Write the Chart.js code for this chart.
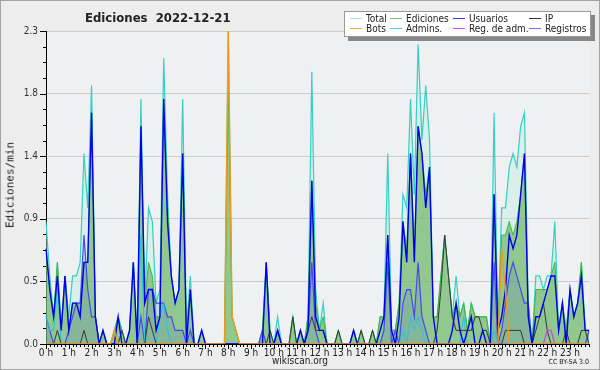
<!DOCTYPE html>
<html>
<head>
<meta charset="utf-8">
<script src="https://cdn.jsdelivr.net/npm/chart.js@4.4.0/dist/chart.umd.min.js"></script>
<style>
  body { margin: 0; background: #ededed; }
  #wrap { position: relative; width: 600px; height: 370px; font-family: "DejaVu Sans Condensed", "DejaVu Sans", sans-serif; font-stretch: condensed; color: #222; }
  #wrap canvas { position: absolute; left: 0; top: 0; }
  #frame { position: absolute; left: 0; top: 0; width: 600px; height: 370px; box-sizing: border-box; border: 1px solid #a4a4a4; pointer-events: none; }
  #title { position: absolute; left: 85px; top: 10px; font-size: 13px; font-weight: bold; white-space: pre; }
  #ytitle { position: absolute; left: 10px; top: 185px; transform: translate(-50%, -50%) rotate(-90deg); font-family: "DejaVu Sans Mono", monospace; font-size: 11px; white-space: nowrap; }
  #legend { position: absolute; left: 344px; top: 11px; width: 247px; height: 26px; box-sizing: border-box; background: #fff; border: 1px solid #9a9a9a; box-shadow: 4px 4px 0 #878787; display: grid; grid-template-columns: 40px 63px 76px 62px; grid-auto-rows: 9.5px; padding: 2px 0 0 5px; font-size: 10px; line-height: 9.5px; }
  .item { display: flex; align-items: center; white-space: nowrap; }
  .item i { display: inline-block; width: 12px; height: 0; border-top: 1px solid; margin-right: 4px; }
  #site { position: absolute; left: 0; width: 600px; top: 355px; text-align: center; font-size: 10px; }
  #lic { position: absolute; right: 11px; top: 358px; font-size: 7px; }
</style>
</head>
<body>
<div id="wrap">
  <canvas id="chart" width="600" height="370"></canvas>
  <div id="title">Ediciones  2022-12-21</div>
  <div id="ytitle">Ediciones/min</div>
  <div id="legend"></div>
  <div id="site">wikiscan.org</div>
  <div id="lic">CC BY-SA 3.0</div>
  <div id="frame"></div>
</div>
<script>
// one value every 10 minutes, in edits per minute
const hourLabels = ['0 h','1 h','2 h','3 h','4 h','5 h','6 h','7 h','8 h','9 h','10 h','11 h',
  '12 h','13 h','14 h','15 h','16 h','17 h','18 h','19 h','20 h','21 h','22 h','23 h'];
const minuteLabels = ['00','10','20','30','40','50'];
const yTickLabels = ['0.0','0.5','0.9','1.4','1.8','2.3'];

const total = [
  0.9,0.5,0.2,0.6,0.1,0.5,0.2,0.5,0.5,0.6,
  1.4,1.0,1.9,0.2,0,0.1,0,0,0.1,0.2,
  0.1,0,0.1,0.6,0,1.8,0.3,1.0,0.9,0.3,
  0.4,2.1,1.1,0.5,0.3,0.4,1.8,0.1,0.5,0,
  0,0.1,0,0,0,0,0,0,2.3,0.2,
  0.1,0,0,0,0,0,0,0.1,0.6,0.1,
  0,0.2,0,0,0,0.2,0,0.1,0,0.2,
  2.0,0.4,0.1,0.3,0,0,0,0.1,0,0,
  0,0.1,0,0.1,0,0,0.1,0,0.2,0.2,
  1.4,0.1,0.1,0.3,1.1,1.0,1.8,1.1,2.2,1.5,
  1.9,1.5,0.2,0.2,0.5,0.8,0.5,0.2,0.5,0.2,
  0.3,0.1,0.3,0.2,0.2,0.2,0.2,0,1.7,0.1,
  1.0,1.0,1.3,1.4,1.3,1.6,1.7,0.3,0,0.5,
  0.5,0.4,0.5,0.5,0.9,0.1,0.3,0.1,0.4,0.2,
  0.3,0.6,0.1,0.1];

const ediciones = [
  0.7,0.4,0.2,0.6,0.1,0.5,0.1,0.3,0.3,0.3,
  0.6,0.6,1.7,0.2,0,0.1,0,0,0.1,0.2,
  0.1,0,0.1,0.6,0,1.6,0.3,0.6,0.5,0.2,
  0.2,1.8,1.0,0.5,0.3,0.4,1.4,0.1,0.4,0,
  0,0.1,0,0,0,0,0,0,1.9,0.2,
  0.1,0,0,0,0,0,0,0.1,0.6,0.1,
  0,0.1,0,0,0,0.2,0,0.1,0,0.2,
  1.2,0.3,0.1,0.2,0,0,0,0.1,0,0,
  0,0.1,0,0.1,0,0,0.1,0,0.2,0.2,
  0.8,0.1,0.1,0.3,0.9,0.7,1.4,0.7,1.6,1.4,
  1.1,1.3,0.2,0.2,0.5,0.8,0.5,0.2,0.3,0.2,
  0.3,0.1,0.3,0.2,0.2,0.2,0.2,0,1.1,0.1,
  0.8,0.8,0.9,0.8,0.9,1.1,1.4,0.2,0,0.4,
  0.4,0.4,0.4,0.5,0.6,0.1,0.3,0.1,0.4,0.2,
  0.3,0.6,0.1,0.1];

const usuarios = [
  0.7,0.4,0.2,0.5,0.1,0.5,0.1,0.3,0.3,0.2,
  0.6,0.6,1.7,0.2,0,0.1,0,0,0,0.2,
  0,0,0.1,0.6,0,1.6,0.3,0.4,0.4,0.1,
  0.2,1.8,0.9,0.5,0.3,0.4,1.4,0,0.4,0,
  0,0.1,0,0,0,0,0,0,0,0,
  0,0,0,0,0,0,0,0,0.6,0,
  0,0.1,0,0,0,0,0,0.1,0,0.1,
  1.2,0.2,0.1,0.1,0,0,0,0,0,0,
  0,0.1,0,0,0,0,0,0,0.1,0.2,
  0.8,0.1,0,0.2,0.9,0.6,1.4,0.6,1.6,1.4,
  1.0,1.3,0.2,0,0,0,0,0.1,0.3,0.1,
  0,0.1,0.2,0,0,0.1,0,0,1.1,0.1,
  0.2,0.4,0.8,0.7,0.8,1.1,1.4,0.2,0,0.2,
  0.2,0.3,0.4,0.5,0.5,0.1,0.3,0,0.4,0.2,
  0.3,0.5,0.1,0.1];

const ip = [
  0,0,0,0.1,0,0,0,0,0,0,
  0.1,0,0,0,0,0,0,0,0,0,
  0.1,0,0,0,0,0,0,0.2,0.1,0,
  0,0,0,0,0,0,0,0,0,0,
  0,0,0,0,0,0,0,0,0,0,
  0,0,0,0,0,0,0,0,0,0.1,
  0,0,0,0,0,0.2,0,0,0,0.1,
  0.2,0.1,0.1,0.1,0,0,0,0.1,0,0,
  0,0,0,0.1,0,0,0.1,0,0,0,
  0,0,0,0,0,0,0,0,0,0,
  0,0,0,0.1,0.4,0.8,0.5,0.2,0.1,0.1,
  0.1,0.1,0.1,0.2,0.2,0.1,0.1,0,0,0,
  0,0.1,0.1,0.1,0.1,0.1,0,0,0,0.1,
  0.2,0.3,0.1,0,0,0,0,0.1,0,0,
  0,0.1,0.1,0];

const bots = [
  0,0,0,0,0,0,0,0,0,0,
  0,0,0,0,0,0,0,0,0.1,0,
  0,0,0,0,0,0,0,0,0,0,
  0,0,0,0,0,0,0,0,0,0,
  0,0,0,0,0,0,0,0,2.3,0.2,
  0.1,0,0,0,0,0,0,0,0,0,
  0,0,0,0,0,0,0,0,0,0,
  0,0,0,0,0,0,0,0,0,0,
  0,0,0,0,0,0,0,0,0,0,
  0,0,0,0,0,0,0,0,0,0,
  0,0,0,0,0,0,0,0,0,0,
  0,0,0,0,0,0,0,0,0,0,
  0.7,0.4,0,0,0,0,0,0,0,0,
  0,0,0,0,0,0,0,0,0,0,
  0,0,0,0];

const admins = [
  0.2,0.1,0.1,0.4,0,0,0,0,0,0,
  0,0,0,0,0,0,0,0,0,0,
  0,0,0,0,0,0.8,0,0,0,0,
  0.2,0.3,0.1,0,0,0,0,0,0,0,
  0,0,0,0,0,0,0,0,0,0,
  0,0,0,0,0,0,0,0,0,0,
  0,0,0,0,0,0,0,0,0,0,
  0,0,0,0,0,0,0,0,0,0,
  0,0,0,0,0,0,0,0,0,0,
  0,0,0,0,0.1,0,0.2,0.1,0.2,0.1,
  0,0,0,0,0,0,0,0,0,0,
  0.2,0,0,0,0,0,0,0,0.1,0,
  0,0,0,0,0,0,0,0,0,0,
  0,0,0,0,0,0,0,0,0,0,
  0,0,0,0];

const regAdm = [
  0,0,0,0,0,0,0,0,0,0,
  0,0,0,0,0,0,0,0,0,0,
  0,0,0,0,0,0,0,0,0,0,
  0,0,0,0,0,0,0,0,0,0,
  0,0,0,0,0,0,0,0,0,0,
  0,0,0,0,0,0,0,0,0,0,
  0,0,0,0,0,0,0,0,0,0,
  0,0,0,0,0,0,0,0,0,0,
  0,0,0,0,0,0,0,0,0,0,
  0,0,0,0,0,0,0,0,0,0,
  0,0,0,0,0,0,0,0,0,0,
  0,0,0,0,0,0,0,0,0,0,
  0,0,0,0,0,0,0,0,0,0,
  0,0,0.1,0.1,0,0,0,0,0,0,
  0,0,0,0];

const registros = [
  0.2,0.1,0,0,0,0,0.1,0.2,0.3,0.3,
  0.8,0.4,0.2,0.2,0,0,0,0,0,0,
  0,0,0,0,0,0.2,0,0.4,0.4,0.3,
  0.3,0.3,0.2,0.2,0.1,0.1,0.1,0,0.1,0,
  0,0,0,0,0,0,0,0,0,0,
  0,0,0,0,0,0,0,0.1,0,0,
  0,0.1,0,0,0,0,0,0,0,0.1,
  0.6,0.1,0,0,0,0,0,0,0,0,
  0,0,0,0,0,0,0,0,0,0.1,
  0.6,0,0.1,0,0.3,0.4,0.4,0.2,0.6,0.2,
  0.1,0,0,0,0,0,0,0,0,0,
  0,0,0,0,0,0,0,0,0.6,0,
  0.1,0.3,0.5,0.6,0.5,0.4,0.3,0.3,0,0,
  0,0,0,0,0,0,0,0,0,0,
  0,0,0,0.1];

const slots = [];
hourLabels.forEach((h, hi) => minuteLabels.forEach(m => slots.push(hi + ':' + m)));

const FONT = "'DejaVu Sans Condensed', 'DejaVu Sans', sans-serif";

function series(label, data, line, key, order, fill, width) {
  return {
    label: label, data: data, borderColor: line, legendColor: key,
    borderWidth: width || 1, order: order,
    fill: fill ? 'origin' : false, backgroundColor: fill || 'transparent',
    pointRadius: 0, tension: 0
  };
}

const datasets = [
  series('Total', total, '#35cfc3', '#a8e6e4', 8, 'rgba(188,240,225,0.45)', 1.2),
  series('Ediciones', ediciones, '#3fb83f', '#74cf74', 7, 'rgba(86,168,70,0.55)', 1),
  series('Usuarios', usuarios, '#0000ee', '#3a3ae4', 2, null, 1.4),
  series('IP', ip, '#383838', '#333333', 4, null, 1),
  series('Bots', bots, '#f39a1a', '#f4a23c', 1, null, 1.4),
  series('Admins.', admins, '#22c5e5', '#3fd0e2', 5, null, 1),
  series('Reg. de adm.', regAdm, '#d43ae6', '#d64cee', 3, null, 1.2),
  series('Registros', registros, '#4848f0', '#7272f2', 6, 'rgba(60,60,230,0.13)', 1.2)
];

const yStep = 2.3 / 20;

const frame = {
  id: 'frame',
  beforeDraw(c) {
    const a = c.chartArea, g = c.ctx;
    g.save();
    g.fillStyle = '#eff0f1';
    g.fillRect(a.left, a.top, a.right - a.left, a.bottom - a.top);
    g.restore();
  },
  afterDraw(c) {
    const g = c.ctx, x = c.scales.x, y = c.scales.y;
    g.save();
    g.strokeStyle = '#000';
    g.lineWidth = 1;
    g.beginPath();
    x.ticks.forEach((t, i) => {
      const px = Math.round(x.getPixelForTick(i)) + 0.5;
      g.moveTo(px, x.top);
      g.lineTo(px, x.top + (i % 6 === 0 ? 5 : 3));
    });
    y.ticks.forEach((t, i) => {
      const py = Math.round(y.getPixelForTick(i)) + 0.5;
      g.moveTo(y.right, py);
      g.lineTo(y.right - (i % 4 === 0 ? 6 : 3), py);
    });
    g.stroke();
    g.restore();
  }
};

const chart = new Chart(document.getElementById('chart'), {
  type: 'line',
  data: { labels: slots, datasets: datasets },
  plugins: [frame],
  options: {
    responsive: false,
    animation: false,
    devicePixelRatio: 1,
    layout: { padding: { top: 31, right: 11, left: 0, bottom: 0 } },
    plugins: { legend: { display: false }, tooltip: { enabled: false } },
    scales: {
      x: {
        type: 'category',
        offset: false,
        grid: { drawOnChartArea: false, drawTicks: false },
        border: { color: '#000', width: 1 },
        ticks: {
          autoSkip: false, maxRotation: 0, padding: 3, color: '#222',
          font: { family: FONT, size: 10 },
          callback: (v, i) => i % 6 === 0 ? hourLabels[i / 6] : ''
        },
        afterFit: s => { s.height = 26; }
      },
      y: {
        min: 0, max: 2.3,
        afterBuildTicks: s => {
          s.ticks = [];
          for (let k = 0; k <= 20; k++) s.ticks.push({ value: k * yStep });
        },
        grid: {
          drawTicks: false,
          color: c => (c.index % 4 === 0 && c.index > 0) ? '#cdcdcd' : 'transparent'
        },
        border: { color: '#000', width: 1 },
        ticks: {
          padding: 8, color: '#333',
          font: { family: FONT, size: 10 },
          callback: (v, i) => i % 4 === 0 ? yTickLabels[i / 4] : ''
        },
        afterFit: s => { s.width = 46; }
      }
    }
  }
});

// legend as a boxed grid, 4 columns
const legend = document.getElementById('legend');
chart.data.datasets.forEach(d => {
  const item = document.createElement('div');
  item.className = 'item';
  const key = document.createElement('i');
  key.style.borderTopColor = d.legendColor;
  item.appendChild(key);
  item.appendChild(document.createTextNode(d.label));
  legend.appendChild(item);
});
</script>
</body>
</html>
